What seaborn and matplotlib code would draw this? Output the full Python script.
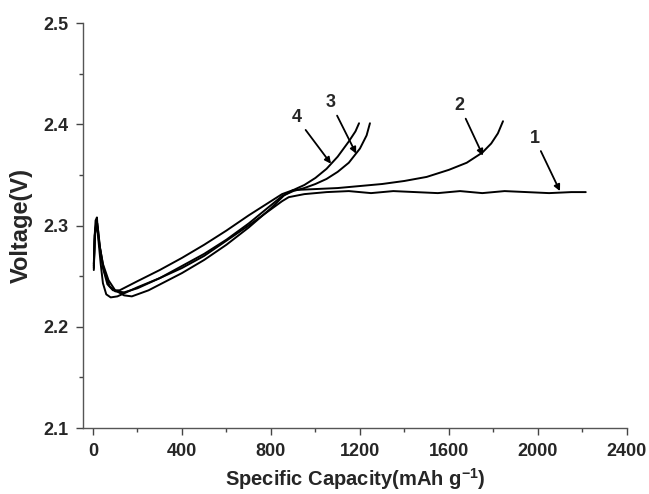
import pandas as pd
import numpy as np
import matplotlib.pyplot as plt
import seaborn as sns

# curve values (capacity mAh/g, voltage V)
cap1 = [4, 8, 12, 18, 25, 35, 45, 60, 80, 110, 200, 300, 400, 500, 600, 700, 800, 850, 880,
        950, 1050, 1150, 1250, 1350, 1450, 1550, 1650, 1750, 1850, 1950, 2050, 2150, 2215]
volt1 = [2.258, 2.290, 2.305, 2.308, 2.285, 2.262, 2.243, 2.232, 2.229, 2.230, 2.239, 2.248,
         2.258, 2.270, 2.285, 2.300, 2.316, 2.324, 2.328, 2.331, 2.333, 2.334, 2.332, 2.334,
         2.333, 2.332, 2.334, 2.332, 2.334, 2.333, 2.332, 2.333, 2.333]

cap2 = [4, 8, 14, 20, 30, 45, 70, 100, 140, 175, 250, 400, 500, 600, 700, 800, 860, 900,
        1000, 1100, 1200, 1300, 1400, 1500, 1600, 1680, 1750, 1790, 1820, 1843]
volt2 = [2.262, 2.290, 2.300, 2.302, 2.280, 2.262, 2.246, 2.236, 2.231, 2.230, 2.236, 2.253,
         2.266, 2.281, 2.298, 2.317, 2.330, 2.335, 2.336, 2.337, 2.339, 2.341, 2.344, 2.348,
         2.355, 2.362, 2.372, 2.381, 2.391, 2.403]

cap3 = [4, 9, 15, 22, 32, 50, 75, 100, 140, 200, 300, 400, 500, 600, 700, 800, 850, 900,
        950, 1000, 1050, 1100, 1150, 1200, 1230, 1245]
volt3 = [2.260, 2.292, 2.303, 2.298, 2.278, 2.255, 2.240, 2.235, 2.234, 2.238, 2.248, 2.260,
         2.272, 2.286, 2.302, 2.320, 2.329, 2.334, 2.337, 2.341, 2.346, 2.353, 2.362, 2.376,
         2.389, 2.401]

cap4 = [4, 8, 13, 20, 30, 45, 65, 90, 120, 200, 300, 400, 500, 600, 700, 800, 850, 900,
        950, 1000, 1050, 1100, 1150, 1180, 1196]
volt4 = [2.256, 2.285, 2.298, 2.296, 2.280, 2.258, 2.242, 2.236, 2.236, 2.245, 2.256, 2.268,
         2.281, 2.295, 2.310, 2.324, 2.331, 2.335, 2.340, 2.347, 2.356, 2.368, 2.383, 2.393,
         2.401]

labels = ['1', '2', '3', '4']
# (text position, arrow head position) for each label
label_xy = [(1985, 2.378), (1648, 2.410), (1068, 2.413), (915, 2.398)]
head_xy = [(2099, 2.334), (1753, 2.369), (1183, 2.371), (1070, 2.361)]

frames = []
for name, c, v in zip(labels, [cap1, cap2, cap3, cap4], [volt1, volt2, volt3, volt4]):
    frames.append(pd.DataFrame({'cap': c, 'volt': v, 'cycle': name}))
df = pd.concat(frames, ignore_index=True)

sns.set_style('ticks')
plt.rcParams['font.family'] = ['Liberation Sans', 'DejaVu Sans']
plt.rcParams['mathtext.fontset'] = 'custom'
plt.rcParams['mathtext.bf'] = 'Liberation Sans:bold'
plt.rcParams['mathtext.rm'] = 'Liberation Sans:bold'

fig = plt.figure(figsize=(6.49, 4.94), dpi=100)
ax = fig.add_axes([0.1274, 0.1336, 0.8386, 0.8198])

sns.lineplot(data=df, x='cap', y='volt', units='cycle', estimator=None, sort=False,
             color='black', linewidth=1.4, ax=ax, legend=False)

for lab, txy, hxy in zip(labels, label_xy, head_xy):
    ax.annotate(lab, xy=hxy, xytext=txy, fontsize=13, fontweight='bold',
                ha='center', va='bottom',
                arrowprops=dict(arrowstyle='-|>', color='black', lw=1.3,
                                mutation_scale=9, shrinkA=1, shrinkB=0))

ax.set_xlim(-46, 2400)
ax.set_ylim(2.1, 2.5)
ax.set_xticks(np.arange(0, 2401, 400))
ax.set_xticks(np.arange(0, 2401, 200), minor=True)
ax.set_yticks([2.1, 2.2, 2.3, 2.4, 2.5])
ax.set_yticks(np.arange(2.1, 2.501, 0.05), minor=True)
ax.tick_params(axis='both', which='major', direction='out', length=5, width=1,
               labelsize=13, color='#444444')
ax.tick_params(axis='x', which='major', pad=6)
ax.tick_params(axis='y', which='major', pad=5)
ax.tick_params(axis='both', which='minor', direction='out', length=3, width=1,
               color='#444444')
for t in ax.get_xticklabels() + ax.get_yticklabels():
    t.set_fontweight('bold')

sns.despine(ax=ax)
for s in ['left', 'bottom']:
    ax.spines[s].set_color('#555555')
    ax.spines[s].set_linewidth(1.0)

ax.set_xlabel(r'Specific Capacity(mAh g$^{\mathbf{-1}}$)', fontsize=14.5, fontweight='bold',
              labelpad=4)
ax.set_ylabel('Voltage(V)', fontsize=17, fontweight='bold', labelpad=8)

fig.savefig('out.png', dpi=100)
